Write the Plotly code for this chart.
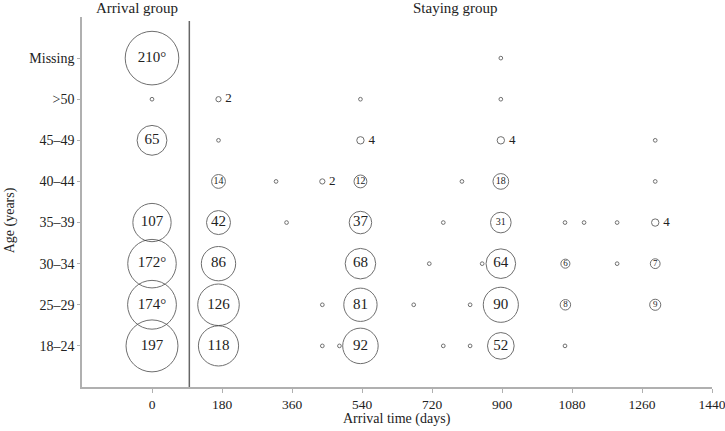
import plotly.graph_objects as go

# ---------------- data ----------------
age_labels = ["18–24", "25–29", "30–34", "35–39", "40–44", "45–49", ">50", "Missing"]
x_tick_values = [0, 180, 360, 540, 720, 900, 1080, 1260, 1440]

# one entry per circle: age group, arrival time (days), count, footnote mark
point_age = (
    ["Missing"] * 2
    + [">50"] * 4
    + ["45–49"] * 5
    + ["40–44"] * 7
    + ["35–39"] * 10
    + ["30–34"] * 9
    + ["25–29"] * 9
    + ["18–24"] * 9
)
point_day = [
    0, 897,
    0, 171, 536, 897,
    0, 171, 536, 897, 1294,
    171, 319, 438, 536, 797, 897, 1294,
    0, 171, 346, 536, 749, 897, 1062, 1111, 1196, 1294,
    0, 171, 536, 713, 849, 897, 1063, 1196, 1294,
    0, 171, 438, 536, 673, 818, 897, 1063, 1294,
    0, 171, 438, 482, 536, 749, 818, 897, 1062,
]
point_count = [
    210, 1,
    1, 2, 1, 1,
    65, 1, 4, 4, 1,
    14, 1, 2, 12, 1, 18, 1,
    107, 42, 1, 37, 1, 31, 1, 1, 1, 4,
    172, 86, 68, 1, 1, 64, 6, 1, 7,
    174, 126, 1, 81, 1, 1, 90, 8, 9,
    197, 118, 1, 1, 92, 1, 1, 52, 1,
]
point_mark = [""] * len(point_count)
point_mark[0] = "°"          # Missing, 210
point_mark[28] = "°"         # 30–34, 172
point_mark[37] = "°"         # 25–29, 174

group_titles = ["Arrival group", "Staying group"]

# ---------------- derived styling ----------------
FONT = "Liberation Serif, DejaVu Serif, serif"
TXT = "#222222"
y_index = [age_labels.index(a) for a in point_age]
sizes = [3.7 * (c ** 0.5) for c in point_count]

inside_x, inside_y, inside_txt, inside_fs = [], [], [], []
side_x, side_y, side_txt, side_sz = [], [], [], []
for d, yi, c, m, s in zip(point_day, y_index, point_count, point_mark, sizes):
    if c >= 6:
        inside_x.append(d)
        inside_y.append(yi)
        inside_txt.append(f"{c}{m}")
        if c >= 35:
            inside_fs.append(15)
        elif c >= 12:
            inside_fs.append(10)
        else:
            inside_fs.append(9)
    elif c >= 2:
        side_x.append(d)
        side_y.append(yi)
        side_txt.append(str(c))
        side_sz.append(s + 4)

fig = go.Figure()
fig.add_trace(go.Scatter(
    x=point_day, y=y_index, mode="markers",
    marker=dict(size=sizes, sizemode="diameter", color="rgba(0,0,0,0)",
                line=dict(color="#333333", width=1)),
    hoverinfo="skip", showlegend=False,
))
fig.add_trace(go.Scatter(
    x=inside_x, y=inside_y, mode="text", text=inside_txt,
    textposition="middle center",
    textfont=dict(family=FONT, size=inside_fs, color=TXT),
    hoverinfo="skip", showlegend=False,
))
fig.add_trace(go.Scatter(
    x=side_x, y=side_y, mode="markers+text", text=side_txt,
    textposition="middle right",
    marker=dict(size=side_sz, color="rgba(0,0,0,0)", line=dict(width=0)),
    textfont=dict(family=FONT, size=13, color=TXT),
    hoverinfo="skip", showlegend=False,
))

# separator between arrival and staying groups
fig.add_shape(type="line", xref="x", yref="paper", x0=96, x1=96, y0=0, y1=0.989,
              line=dict(color="#666666", width=1.5))

fig.add_annotation(text=group_titles[0], xref="x", yref="paper", x=-38, y=1.024,
                   showarrow=False, font=dict(family=FONT, size=15, color=TXT),
                   xanchor="center", yanchor="middle")
fig.add_annotation(text=group_titles[1], xref="x", yref="paper", x=780, y=1.024,
                   showarrow=False, font=dict(family=FONT, size=15, color=TXT),
                   xanchor="center", yanchor="middle")
fig.add_annotation(text="Arrival time (days)", xref="paper", yref="paper", x=0.5, y=-0.086,
                   showarrow=False, font=dict(family=FONT, size=14, color=TXT),
                   xanchor="center", yanchor="middle")
fig.add_annotation(text="Age (years)", xref="paper", yref="paper", x=-0.114, y=0.451,
                   showarrow=False, textangle=-90,
                   font=dict(family=FONT, size=14, color=TXT),
                   xanchor="center", yanchor="middle")

fig.update_layout(
    width=725, height=431,
    margin=dict(l=82, r=13, t=17, b=44, autoexpand=False),
    paper_bgcolor="white", plot_bgcolor="white",
    font=dict(family=FONT, size=14, color=TXT),
    xaxis=dict(range=[-180, 1440], tickvals=x_tick_values,
               ticktext=[str(v) for v in x_tick_values],
               showgrid=False, zeroline=False, showline=True, automargin=False,
               linecolor="#b0b0b0", linewidth=1.5,
               ticks="outside", ticklen=4, tickcolor="#b0b0b0", tickwidth=1,
               ticklabeloverflow="allow",
               tickfont=dict(family=FONT, size=13.5, color=TXT)),
    yaxis=dict(range=[-1, 8], tickvals=list(range(len(age_labels))),
               ticktext=age_labels,
               showgrid=False, zeroline=False, showline=True, automargin=False,
               linecolor="#b0b0b0", linewidth=1.5,
               ticks="outside", ticklen=3, tickcolor="#b0b0b0", tickwidth=1,
               tickfont=dict(family=FONT, size=14, color=TXT)),
)

fig.write_html("out.html", config={"displayModeBar": False},
               post_script="document.body.style.margin='0';document.body.style.padding='0';")
